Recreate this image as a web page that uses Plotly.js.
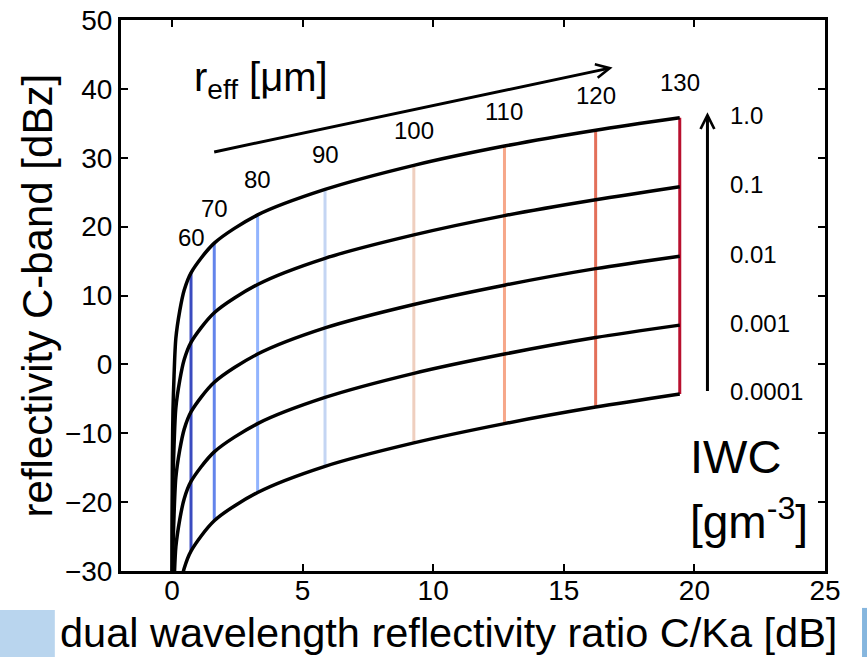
<!DOCTYPE html>
<html>
<head>
<meta charset="utf-8">
<script src="https://cdn.plot.ly/plotly-3.0.1.min.js"></script>
<style>
  html, body { margin: 0; padding: 0; background: #ffffff; }
  #chart { width: 867px; height: 657px; }
</style>
</head>
<body>
<div id="chart"></div>
<script>
// ---------------- data ----------------
// effective radius labels for the coloured iso-r_eff lines
const reffLabels = [60, 70, 80, 90, 100, 110, 120, 130];
// DWR C/Ka [dB] reached at each labelled effective radius
const dwrAtReff = [0.73, 1.62, 3.28, 5.86, 9.26, 12.73, 16.22, 19.44];
// DWR of the small-particle (r_eff < 60 µm) part of the curves
const dwrSmall = [0, 0.004, 0.01, 0.02, 0.04, 0.08, 0.15, 0.3, 0.47];

// IWC levels [g m^-3] and labels
const iwcLabels = ["1.0", "0.1", "0.01", "0.001", "0.0001"];

// reflectivity C-band [dBZ] for each IWC curve: small-particle part, then at r_eff = 60..130
const zSmall_1e0 = [-61.7, -28.7, -18.7, -12.7, -6.7, -1.7, 3.8, 7.8, 10.8];
const zReff_1e0  = [13.3, 17.6, 21.7, 25.4, 28.9, 31.7, 34.0, 35.8];
const zSmall_1e1 = [-71.8, -38.8, -28.8, -22.8, -16.8, -11.8, -6.3, -2.3, 0.7];
const zReff_1e1  = [3.2, 7.5, 11.6, 15.4, 18.8, 21.6, 23.9, 25.8];
const zSmall_1e2 = [-81.9, -48.9, -38.9, -32.9, -26.9, -21.9, -16.4, -12.4, -9.4];
const zReff_1e2  = [-6.9, -2.6, 1.5, 5.3, 8.7, 11.5, 13.9, 15.7];
const zSmall_1e3 = [-92.0, -59.0, -49.0, -43.0, -37.0, -32.0, -26.5, -22.5, -19.5];
const zReff_1e3  = [-17.0, -12.7, -8.6, -4.8, -1.3, 1.5, 3.9, 5.7];
const zSmall_1e4 = [-102.0, -69.0, -59.0, -53.0, -47.0, -42.0, -36.6, -32.6, -29.6];
const zReff_1e4  = [-27.1, -22.7, -18.6, -14.8, -11.4, -8.6, -6.2, -4.3];

// colours of the iso-r_eff lines (coolwarm)
const reffColors = ["#3b4cc0", "#6384eb", "#92b4fe", "#c4d5f3", "#efcfbf", "#f6a78a", "#e3705a", "#b8102e"];

// axis ticks
const xTicks = [0, 5, 10, 15, 20, 25];
const yTicks = [-30, -20, -10, 0, 10, 20, 30, 40, 50];

// text
const xTitle = "dual wavelength reflectivity ratio C/Ka [dB]";
const yTitle = "reflectivity C-band [dBz]";
const reffTitle = "r<sub>eff</sub> [μm]";
const iwcTitle1 = "IWC";
const iwcTitle2 = "[gm<sup>-3</sup>]";

// ---------------- build ----------------
const FONT = "Liberation Sans, Arial, Helvetica, sans-serif";
const curvesSmall = [zSmall_1e0, zSmall_1e1, zSmall_1e2, zSmall_1e3, zSmall_1e4];
const curvesReff  = [zReff_1e0, zReff_1e1, zReff_1e2, zReff_1e3, zReff_1e4];

const traces = [];
// coloured vertical iso-r_eff lines (from lowest to highest IWC curve)
reffLabels.forEach((r, i) => {
  traces.push({
    type: "scatter", mode: "lines",
    x: [dwrAtReff[i], dwrAtReff[i]],
    y: [zReff_1e4[i], zReff_1e0[i]],
    line: { color: reffColors[i], width: 3 },
    hoverinfo: "skip", showlegend: false
  });
});
// black IWC curves
curvesSmall.forEach((zs, k) => {
  traces.push({
    type: "scatter", mode: "lines",
    x: dwrSmall.concat(dwrAtReff),
    y: zs.concat(curvesReff[k]),
    line: { color: "#000000", width: 3.5, shape: "spline", smoothing: 0.8 },
    hoverinfo: "skip", showlegend: false
  });
});

const annotations = [];
// r_eff labels above each coloured line
reffLabels.forEach((r, i) => {
  annotations.push({
    x: dwrAtReff[i], y: zReff_1e0[i], xref: "x", yref: "y",
    text: String(r), showarrow: false, xanchor: "center", yanchor: "middle",
    yshift: 35, font: { family: FONT, size: 24, color: "#000" }
  });
});
// IWC level labels at the right ends of the curves
iwcLabels.forEach((t, k) => {
  const zr = curvesReff[k];
  annotations.push({
    x: 21.3, y: zr[zr.length - 1], xref: "x", yref: "y",
    text: t, showarrow: false, xanchor: "left", yanchor: "middle",
    yshift: 2, font: { family: FONT, size: 24, color: "#000" }
  });
});
// diagonal r_eff arrow
annotations.push({
  x: 16.87, y: 43.1, ax: 1.56, ay: 30.8, xref: "x", yref: "y", axref: "x", ayref: "y",
  text: "", showarrow: true, arrowhead: 5, arrowsize: 0.9, arrowwidth: 3, arrowcolor: "#000"
});
// vertical IWC arrow
annotations.push({
  x: 20.5, y: 36.6, ax: 20.5, ay: -4.1, xref: "x", yref: "y", axref: "x", ayref: "y",
  text: "", showarrow: true, arrowhead: 5, arrowsize: 0.9, arrowwidth: 3, arrowcolor: "#000"
});
// r_eff title
annotations.push({
  x: 0.78, y: 41.3, xref: "x", yref: "y", text: reffTitle, showarrow: false,
  xanchor: "left", yanchor: "middle", font: { family: FONT, size: 40, color: "#000" }
});
// IWC title
annotations.push({
  x: 19.74, y: -13.4, xref: "x", yref: "y", text: iwcTitle1, showarrow: false,
  xanchor: "left", yanchor: "middle", font: { family: FONT, size: 47, color: "#000" }
});
annotations.push({
  x: 19.74, y: -22.4, xref: "x", yref: "y", text: iwcTitle2, showarrow: false,
  xanchor: "left", yanchor: "middle", font: { family: FONT, size: 46, color: "#000" }
});
// axis titles
annotations.push({
  x: 0.4645, y: -0.112, xref: "paper", yref: "paper", text: xTitle, showarrow: false,
  xanchor: "center", yanchor: "middle", font: { family: FONT, size: 41.5, color: "#000" }
});
annotations.push({
  x: -0.118, y: 0.5, xref: "paper", yref: "paper", text: yTitle, showarrow: false,
  textangle: -90, xanchor: "center", yanchor: "middle", font: { family: FONT, size: 42, color: "#000" }
});

const axisCommon = {
  ticks: "inside", ticklen: 7, tickwidth: 2, tickcolor: "#000",
  showline: true, linewidth: 3, linecolor: "#000", mirror: "ticks",
  showgrid: false, zeroline: false,
  tickfont: { family: FONT, size: 28, color: "#000" }
};

const layout = {
  width: 867, height: 657,
  margin: { l: 121, r: 42, t: 20, b: 86, pad: 0 },
  paper_bgcolor: "#ffffff", plot_bgcolor: "#ffffff",
  showlegend: false, hovermode: false,
  xaxis: Object.assign({}, axisCommon, { range: [-1.95, 25], tickmode: "array", tickvals: xTicks, ticktext: xTicks.map(String), ticklabelstandoff: -8 }),
  yaxis: Object.assign({}, axisCommon, { range: [-30, 50], tickmode: "array", tickvals: yTicks }),
  annotations: annotations,
  shapes: [
    { type: "rect", xref: "paper", yref: "paper", x0: -0.172, x1: -0.094, y0: -0.16, y1: -0.0708,
      line: { width: 0 }, fillcolor: "#b9d5ee", layer: "below" },
    { type: "rect", xref: "paper", yref: "paper", x0: 1.0526, x1: 1.062, y0: -0.16, y1: -0.067,
      line: { width: 0 }, fillcolor: "#86b6de", layer: "below" }
  ]
};

Plotly.newPlot("chart", traces, layout, { staticPlot: true, displayModeBar: false });
</script>
</body>
</html>
